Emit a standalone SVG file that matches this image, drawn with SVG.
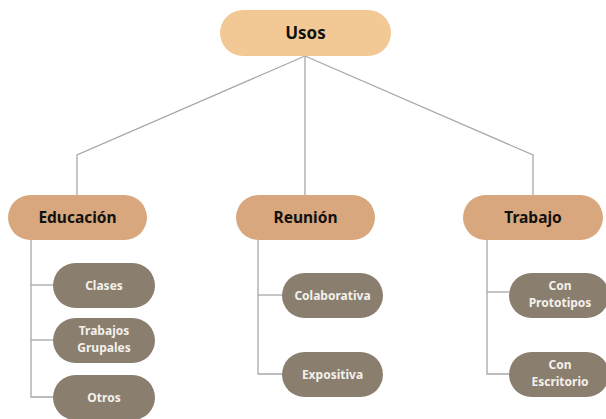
<svg xmlns="http://www.w3.org/2000/svg" width="606" height="419" viewBox="0 0 606 419">
  <style>
    .edge { fill: none; stroke: #a8a8a8; stroke-width: 1.3; }
    .root rect { fill: #f2c994; }
    .cat rect { fill: #d9a77d; }
    .leaf rect { fill: #8a7e6f; }
    text { font-family: "Noto Sans", "Open Sans", "DejaVu Sans", sans-serif; font-weight: bold; text-anchor: middle; }
    .root text { font-size: 17px; fill: #111111; }
    .cat text { font-size: 15.5px; fill: #111111; }
    .leaf text { font-size: 12px; fill: #f4f1ec; }
  </style>
  <rect width="606" height="419" fill="#ffffff"/>

  <g id="connectors">
    <polyline class="edge" points="305,56 77,155 77,195"/>
    <line class="edge" x1="305" y1="56" x2="305" y2="195"/>
    <polyline class="edge" points="305,56 533,155 533,195"/>
    <!-- Educación branch -->
    <polyline class="edge" points="31,240 31,397 53,397"/>
    <line class="edge" x1="31" y1="285" x2="53" y2="285"/>
    <line class="edge" x1="31" y1="340" x2="53" y2="340"/>
    <!-- Reunión branch -->
    <polyline class="edge" points="258,240 258,374 282,374"/>
    <line class="edge" x1="258" y1="295" x2="282" y2="295"/>
    <!-- Trabajo branch -->
    <polyline class="edge" points="487,240 487,374 509,374"/>
    <line class="edge" x1="487" y1="292" x2="509" y2="292"/>
  </g>

  <g id="usos" class="root">
    <rect x="220" y="10" width="171" height="46" rx="23"/>
    <text x="305.5" y="39">Usos</text>
  </g>

  <g id="educacion" class="cat">
    <rect x="8" y="195" width="139" height="45" rx="22.5"/>
    <text x="77.5" y="223">Educación</text>
  </g>
  <g id="reunion" class="cat">
    <rect x="236" y="195" width="139" height="45" rx="22.5"/>
    <text x="305.5" y="223">Reunión</text>
  </g>
  <g id="trabajo" class="cat">
    <rect x="463" y="195" width="140" height="45" rx="22.5"/>
    <text x="533" y="223">Trabajo</text>
  </g>

  <g id="clases" class="leaf">
    <rect x="53" y="263" width="102" height="45" rx="22.5"/>
    <text x="104" y="289.5">Clases</text>
  </g>
  <g id="trabajos-grupales" class="leaf">
    <rect x="53" y="318" width="102" height="45" rx="22.5"/>
    <text x="104" y="335">Trabajos</text>
    <text x="104" y="352">Grupales</text>
  </g>
  <g id="otros" class="leaf">
    <rect x="53" y="375" width="102" height="45" rx="22.5"/>
    <text x="104" y="401.5">Otros</text>
  </g>

  <g id="colaborativa" class="leaf">
    <rect x="282" y="273" width="101" height="45" rx="22.5"/>
    <text x="332.5" y="299.5">Colaborativa</text>
  </g>
  <g id="expositiva" class="leaf">
    <rect x="282" y="352" width="101" height="45" rx="22.5"/>
    <text x="332.5" y="378.5">Expositiva</text>
  </g>

  <g id="con-prototipos" class="leaf">
    <rect x="509" y="273" width="100" height="45" rx="22.5"/>
    <text x="560" y="290">Con</text>
    <text x="560" y="307">Prototipos</text>
  </g>
  <g id="con-escritorio" class="leaf">
    <rect x="509" y="352" width="100" height="45" rx="22.5"/>
    <text x="560" y="369">Con</text>
    <text x="560" y="386">Escritorio</text>
  </g>
</svg>
